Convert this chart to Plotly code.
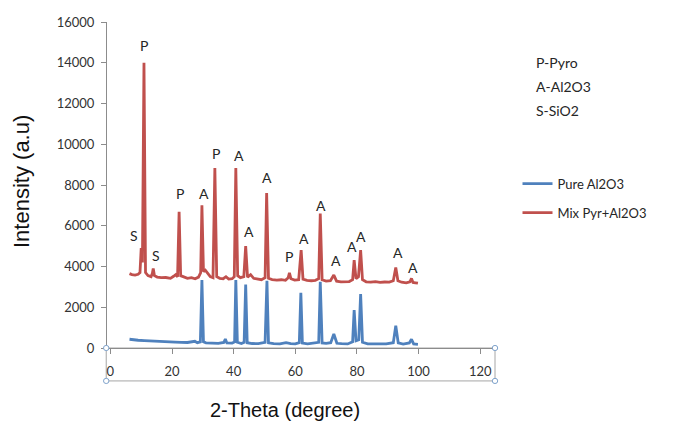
import plotly.graph_objects as go

# ---------------- data ----------------
pure_x = [6.2, 7.5, 9, 11, 13, 15, 17, 19, 21, 23, 25, 27.4, 28.2, 29.2, 29.7, 30.2, 31, 33, 35,
          36.8, 37.3, 37.8, 39.5, 40.3, 40.7, 41.2, 42.5, 43.4, 43.9, 44.4, 46, 48, 50.2, 50.8,
          51.3, 53, 55, 57, 58.5, 60, 61.3, 61.8, 62.3, 64, 66, 67.6, 68.1, 68.7, 70, 71.5,
          72.5, 73.5, 75, 77, 78.6, 79.1, 79.7, 80.6, 81.2, 81.8, 83.5, 85.5, 87.5, 89.5, 91.8,
          92.6, 93.4, 95, 97, 97.7, 98.4, 99.8]
pure_y = [430, 400, 380, 360, 340, 330, 310, 300, 290, 280, 270, 330, 260, 300, 3330, 300, 250,
          240, 230, 270, 440, 250, 240, 300, 3330, 280, 220, 280, 3120, 260, 220, 210, 280, 3300,
          250, 210, 200, 260, 210, 200, 260, 2710, 240, 200, 240, 280, 3250, 250, 230, 260,
          690, 230, 210, 200, 300, 1860, 350, 400, 2650, 280, 200, 190, 210, 200, 260,
          1090, 250, 190, 250, 425, 200, 180]

mix_x = [6.2, 7, 8, 9, 9.6, 10.0, 10.4, 10.9, 11.4, 12.2, 13.2, 13.6, 13.9, 14.3, 15.2, 16.5,
         18, 19.5, 20.5, 21.2, 21.8, 22.3, 22.8, 23.8, 25, 26.3, 27.5, 28.6, 29.3, 29.7, 30.2,
         30.8, 31.5, 32.4, 33.3, 33.9, 34.5, 35.5, 36.6, 37.5, 38.4, 39.5, 40.2, 40.7, 41.3,
         42.2, 43.3, 43.9, 44.5, 45.5, 46.5, 47.8, 49, 50.2, 50.7, 51.3, 52.5, 54, 55.5, 56.8,
         57.7, 58.1, 58.6, 59.8, 61.1, 61.9, 62.5, 63.8, 65.2, 66.5, 67.6, 68.1, 68.7, 70,
         71.4, 72.5, 73.4, 74.8, 76.2, 77.5, 78.6, 79.1, 79.7, 80.5, 81.2, 81.8, 83, 84.5, 86,
         87.5, 89, 90.5, 91.8, 92.6, 93.3, 94.5, 96, 97.2, 97.7, 98.2, 99, 99.8]
mix_y = [3650, 3600, 3580, 3620, 3700, 4900, 4200, 14000, 3700, 3550, 3500, 3650, 3900, 3550,
         3480, 3450, 3460, 3420, 3520, 3600, 3500, 6680, 3550, 3480, 3420, 3450, 3400, 3480,
         3700, 7000, 3750, 3820, 3700, 3500, 3450, 8830, 3500, 3420, 3400, 3500, 3380, 3400,
         3500, 8830, 3550, 3450, 3500, 5000, 3480, 3600, 3420, 3380, 3350, 3450, 7610, 3420,
         3360, 3330, 3350, 3320, 3450, 3690, 3400, 3330, 3350, 4800, 3380, 3320, 3300, 3320,
         3400, 6600, 3350, 3280, 3300, 3580, 3280, 3250, 3270, 3260, 3350, 4310, 3400, 3500,
         4800, 3350, 3250, 3230, 3260, 3220, 3240, 3230, 3300, 3950, 3300, 3230, 3200, 3250,
         3415, 3220, 3200, 3180]

peak_text = ["S", "P", "S", "P", "A", "P", "A", "A", "A", "P", "A", "A", "A", "A", "A", "A", "A"]
peak_x = [7.6, 10.9, 14.9, 22.6, 30.4, 34.2, 41.8, 45.1, 50.7, 58.1, 62.8, 68.4, 73.1, 78.5,
          81.2, 93.2, 98.3]
peak_y = [5540, 14850, 4560, 7580, 7580, 9570, 9460, 5700, 8350, 4510, 5370, 7000, 4310, 5000,
          5450, 4670, 3950]

key_text = ["P-Pyro", "A-Al2O3", "S-SiO2"]
x_ticks = [0, 20, 40, 60, 80, 100, 120]
y_ticks = [0, 2000, 4000, 6000, 8000, 10000, 12000, 14000, 16000]

# ---------------- figure ----------------
BLUE = "#4F81BD"
RED = "#C0504D"
TXT = "#333333"
AX = "#8C8C8C"
FONT = "Lato, 'Open Sans', sans-serif"

fig = go.Figure()
fig.add_trace(go.Scatter(x=pure_x, y=pure_y, mode="lines", name="Pure Al2O3",
                         line=dict(color=BLUE, width=2.8), legendgroup="a"))
fig.add_trace(go.Scatter(x=mix_x, y=mix_y, mode="lines", name="Mix Pyr+Al2O3",
                         line=dict(color=RED, width=2.8), legendgroup="b"))

for t, x, y in zip(peak_text, peak_x, peak_y):
    fig.add_annotation(x=x, y=y, text=t, showarrow=False, xref="x", yref="y",
                       font=dict(family=FONT, size=14, color="#262626"))

for i, t in enumerate(key_text):
    fig.add_annotation(x=1.1, y=0.877 - i * 0.0736, xref="paper", yref="paper", text=t,
                       showarrow=False, xanchor="left", yanchor="middle",
                       font=dict(family=FONT, size=14, color="#262626"))

fig.add_annotation(x=0.459, y=-0.19, xref="paper", yref="paper", text="2-Theta (degree)",
                   showarrow=False, xanchor="center", yanchor="middle",
                   font=dict(family="Liberation Sans, Arial, sans-serif", size=20, color="#111111"))
fig.add_annotation(x=-0.221, y=0.51, xref="paper", yref="paper", text="Intensity (a.u)",
                   showarrow=False, textangle=-90, xanchor="center", yanchor="middle",
                   font=dict(family="Liberation Sans, Arial, sans-serif", size=22, color="#111111"))

# selected-axis frame around the x axis (as in the source screenshot)
fig.add_shape(type="rect", xref="paper", yref="paper", x0=-0.002, x1=1.0, y0=-0.101, y1=0,
              line=dict(color="#A6A6A6", width=1), fillcolor="rgba(0,0,0,0)", layer="below")
for cx, cy in [(-0.002, 0), (1.0, 0), (-0.002, -0.101), (1.0, -0.101)]:
    fig.add_shape(type="circle", xref="paper", yref="paper",
                  x0=cx - 0.007, x1=cx + 0.007, y0=cy - 0.008, y1=cy + 0.008,
                  line=dict(color="#7FA3CC", width=1), fillcolor="white")

fig.update_layout(
    width=673, height=425,
    margin=dict(l=107, r=178, t=22, b=77, pad=0),
    plot_bgcolor="white", paper_bgcolor="white",
    font=dict(family=FONT, size=13, color=TXT),
    showlegend=True,
    legend=dict(x=1.058, y=0.55, xanchor="left", yanchor="top", tracegroupgap=9,
                font=dict(family=FONT, size=13, color="#262626"),
                bgcolor="rgba(0,0,0,0)", borderwidth=0),
    xaxis=dict(range=[-1.1, 124.8], tickvals=x_ticks, showgrid=False, zeroline=False,
               showline=True, linecolor=AX, linewidth=1, ticks="outside", ticklen=5,
               tickcolor=AX, tickfont=dict(family=FONT, size=13, color=TXT),
               ticklabelstandoff=6),
    yaxis=dict(range=[0, 16000], tickvals=y_ticks, tickformat="d", showgrid=False,
               zeroline=False, showline=True, linecolor=AX, linewidth=1, ticks="outside",
               ticklen=5, tickcolor=AX, tickfont=dict(family=FONT, size=13, color=TXT),
               ticklabelstandoff=4),
)

fig.write_html("out.html", config={"displayModeBar": False},
               post_script="document.body.style.margin='0';document.body.style.overflow='hidden';")
